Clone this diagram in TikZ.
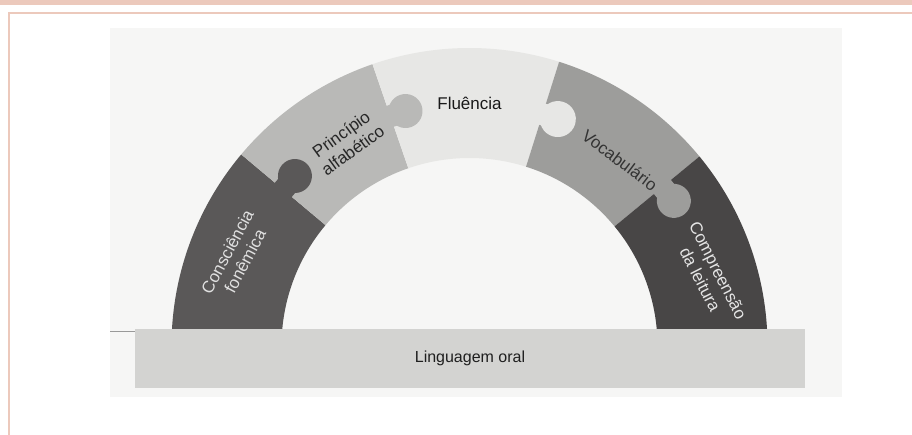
\documentclass[tikz,border=0pt]{standalone}
\usepackage{fontspec}
\setmainfont{Liberation Sans}

\definecolor{framepink}{HTML}{ECC9BC}
\definecolor{pagegray}{HTML}{F6F6F5}
\definecolor{fonemica}{HTML}{5A5858}
\definecolor{alfabeto}{HTML}{B9B9B7}
\definecolor{fluencia}{HTML}{E7E7E5}
\definecolor{vocab}{HTML}{9D9D9B}
\definecolor{leitura}{HTML}{484646}
\definecolor{oral}{HTML}{D3D3D1}

\begin{document}
\begin{tikzpicture}[x=1pt, y=1pt,
  piecetext/.style={font=\fontsize{17}{20}\selectfont, align=center, inner sep=0pt}]

\useasboundingbox (0,0) rectangle (912,435) ;

\fill [framepink] (0,430) rectangle (912,435) ;
\draw [framepink, line width=2.5] (9,0) to (9,422) to (912,422) ;
\fill [pagegray] (110,38) rectangle (842,407) ;
\draw [black!40, line width=.8] (110,104) to (135,104) ;

\begin{scope}[shift={(469.5,89)}]

\fill [fonemica] (180:298) arc [start angle=180, end angle=140, radius=298] to (140:188) arc [start angle=140, end angle=180, radius=188] to cycle ;
\fill [alfabeto] (140:298) arc [start angle=140, end angle=109, radius=298] to (109:188) arc [start angle=109, end angle=140, radius=188] to cycle ;
\fill [fluencia] (109:298) arc [start angle=109, end angle=72.5, radius=298] to (72.5:188) arc [start angle=72.5, end angle=109, radius=188] to cycle ;
\fill [vocab] (72.5:298) arc [start angle=72.5, end angle=39.5, radius=298] to (39.5:188) arc [start angle=39.5, end angle=72.5, radius=188] to cycle ;
\fill [leitura] (39.5:298) arc [start angle=39.5, end angle=0, radius=298] to (0:188) arc [start angle=0, end angle=39.5, radius=188] to cycle ;

\fill [fonemica, shift={(140:243)}, rotate=50] (-2,-11) rectangle (18,11) ;
\fill [fonemica, shift={(140:243)}, rotate=50] (18,0) circle [radius=17] ;
\fill [alfabeto, shift={(109:243)}, rotate=19] (-2,-11) rectangle (16,11) ;
\fill [alfabeto, shift={(109:243)}, rotate=19] (16,0) circle [radius=17] ;
\fill [fluencia, shift={(72.5:243)}, rotate=-17.5] (-2,-11) rectangle (16,11) ;
\fill [fluencia, shift={(72.5:243)}, rotate=-17.5] (16,0) circle [radius=18] ;
\fill [vocab, shift={(39.5:250)}, rotate=-50.5] (-2,-11) rectangle (18,11) ;
\fill [vocab, shift={(39.5:250)}, rotate=-50.5] (18,0) circle [radius=17] ;

\node [piecetext, text=black!12, rotate=62] (consciencia) at (159:250) {Consciência\\fonêmica} ;
\node [piecetext, text=black!85, rotate=36] (principio) at (121:238) {Princípio\\alfabético} ;
\node [piecetext, text=black!90] (fluenciatxt) at (90:243) {Fluência} ;
\node [piecetext, text=black!80, rotate=-37] (vocabulario) at (51:239) {Vocabulário} ;
\node [piecetext, text=black!10, rotate=-63] (compreensao) at (16.5:250) {Compreensão\\da leitura} ;

\end{scope}

\node [fill=oral, minimum width=670pt, minimum height=59pt, inner sep=0pt, font=\fontsize{16}{18}\selectfont, text=black!88] (linguagem) at (470,76.5) {Linguagem oral} ;

\end{tikzpicture}
\end{document}
